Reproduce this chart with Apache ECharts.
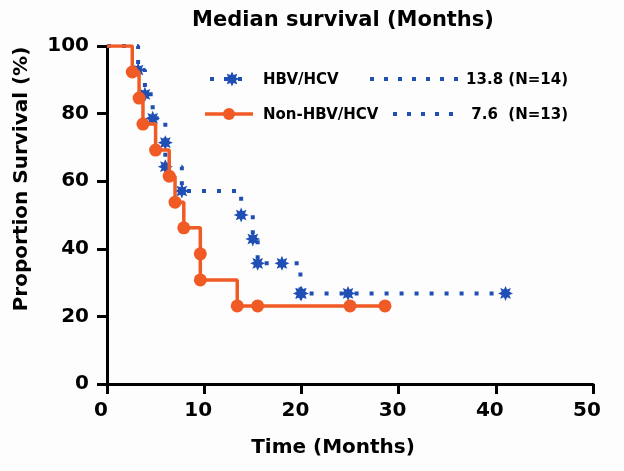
<!DOCTYPE html>
<html>
<head>
<meta charset="utf-8">
<script src="https://cdn.jsdelivr.net/npm/echarts@6/dist/echarts.min.js"></script>
<style>
  html, body { margin: 0; padding: 0; background: #fdfdfd; }
  #main { width: 624px; height: 471px; }
</style>
</head>
<body>
<div id="main"></div>
<script>
// Kaplan-Meier curves
var hbvTime  = [0, 3.2, 3.9, 4.7, 6.0, 6.0, 7.7, 13.8, 15.0, 15.5, 18.0, 19.9, 20.0, 24.8, 41.0];
var hbvSurv  = [100, 92.9, 85.7, 78.6, 71.4, 64.3, 57.1, 50.0, 42.9, 35.7, 35.7, 26.8, 26.8, 26.8, 26.8];
var nonTime  = [0, 2.6, 3.3, 3.7, 5.0, 6.4, 7.0, 7.9, 9.6, 9.6, 13.4, 15.5, 25.0, 28.6];
var nonSurv  = [100, 92.3, 84.6, 76.9, 69.2, 61.5, 53.8, 46.2, 38.5, 30.8, 23.1, 23.1, 23.1, 23.1];
var seriesNames = ['HBV/HCV', 'Non-HBV/HCV'];
var medianLabels = ['13.8 (N=14)', '7.6  (N=13)'];
var xTicks = [0, 10, 20, 30, 40, 50];
var yTicks = [0, 20, 40, 60, 80, 100];

var BLUE = '#1f4eb4';
var ORANGE = '#f05a24';
var FONT = '"DejaVu Sans", sans-serif';

// asterisk-like star
function starPoints(cx, cy, n, r1, r2) {
    var pts = [];
    for (var i = 0; i < n * 2; i++) {
        var a = i * Math.PI / n - Math.PI / 2;
        var r = i % 2 ? r2 : r1;
        pts.push([cx + r * Math.cos(a), cy + r * Math.sin(a)]);
    }
    return pts;
}
function starPath() {
    var p = starPoints(10, 10, 8, 10, 5.5);
    return 'path://M' + p.map(function (q) { return q[0].toFixed(2) + ',' + q[1].toFixed(2); }).join('L') + 'Z';
}
var STAR = starPath();

function toData(t, s) {
    return t.map(function (v, i) {
        var d = { value: [v, s[i]] };
        if (i === 0) d.symbol = 'none';
        return d;
    });
}

var chart = echarts.init(document.getElementById('main'));

var option = {
    backgroundColor: '#fdfdfd',
    animation: false,
    grid: { left: 107, right: 31, top: 46, bottom: 87 },
    xAxis: {
        type: 'value', min: xTicks[0], max: xTicks[xTicks.length - 1], interval: 10,
        splitLine: { show: false },
        axisLine: { lineStyle: { color: '#000', width: 3 } },
        axisTick: { length: 10, lineStyle: { color: '#000', width: 3 } },
        axisLabel: {
            margin: 17, color: '#000', fontFamily: FONT, fontWeight: 'bold', fontSize: 20,
            padding: [0, 12, 0, 0]
        }
    },
    yAxis: {
        type: 'value', min: yTicks[0], max: yTicks[yTicks.length - 1], interval: 20,
        splitLine: { show: false },
        axisLine: { lineStyle: { color: '#000', width: 3 } },
        axisTick: { length: 10, lineStyle: { color: '#000', width: 3 } },
        axisLabel: { margin: 18, color: '#000', fontFamily: FONT, fontWeight: 'bold', fontSize: 20 }
    },
    series: [
        {
            name: seriesNames[0],
            type: 'line',
            step: 'end',
            data: toData(hbvTime, hbvSurv),
            symbol: STAR,
            symbolSize: 15,
            itemStyle: { color: BLUE },
            lineStyle: { color: BLUE, width: 4, type: [4, 11], cap: 'butt' },
            z: 2
        },
        {
            name: seriesNames[1],
            type: 'line',
            step: 'end',
            data: toData(nonTime, nonSurv),
            symbol: 'circle',
            symbolSize: 13,
            itemStyle: { color: ORANGE },
            lineStyle: { color: ORANGE, width: 3.5 },
            z: 3
        }
    ],
    graphic: [
        // title
        { type: 'text', style: { text: 'Median survival (Months)', x: 343, y: 21, align: 'center', verticalAlign: 'middle',
            font: 'bold 21px ' + FONT, fill: '#000' } },
        // axis names
        { type: 'text', rotation: Math.PI / 2, x: 22, y: 179,
            style: { text: 'Proportion Survival (%)', x: 0, y: 0, align: 'center', verticalAlign: 'middle',
            font: 'bold 20px ' + FONT, fill: '#000' } },
        { type: 'text', style: { text: 'Time (Months)', x: 333, y: 448, align: 'center', verticalAlign: 'middle',
            font: 'bold 20px ' + FONT, fill: '#000' } },
        // legend row 1
        { type: 'line', shape: { x1: 210, y1: 79, x2: 252, y2: 79 },
            style: { stroke: BLUE, lineWidth: 4, lineDash: [4, 10] } },
        { type: 'polygon', shape: { points: starPoints(232, 79, 8, 7.5, 4.2) }, style: { fill: BLUE } },
        { type: 'text', style: { text: seriesNames[0], x: 263, y: 80, verticalAlign: 'middle',
            font: 'bold 15px ' + FONT, fill: '#000' } },
        { type: 'line', shape: { x1: 370, y1: 79, x2: 468, y2: 79 },
            style: { stroke: BLUE, lineWidth: 4, lineDash: [4, 10] } },
        { type: 'text', style: { text: medianLabels[0], x: 568, y: 80, align: 'right', verticalAlign: 'middle',
            font: 'bold 15px ' + FONT, fill: '#000' } },
        // legend row 2
        { type: 'line', shape: { x1: 205, y1: 114, x2: 253, y2: 114 },
            style: { stroke: ORANGE, lineWidth: 3.5 } },
        { type: 'circle', shape: { cx: 229, cy: 114, r: 6 }, style: { fill: ORANGE } },
        { type: 'text', style: { text: seriesNames[1], x: 263, y: 115, verticalAlign: 'middle',
            font: 'bold 15px ' + FONT, fill: '#000' } },
        { type: 'line', shape: { x1: 393, y1: 114, x2: 460, y2: 114 },
            style: { stroke: BLUE, lineWidth: 4, lineDash: [4, 10] } },
        { type: 'text', style: { text: medianLabels[1], x: 568, y: 115, align: 'right', verticalAlign: 'middle',
            font: 'bold 15px ' + FONT, fill: '#000' } }
    ]
};

chart.setOption(option);
</script>
</body>
</html>
